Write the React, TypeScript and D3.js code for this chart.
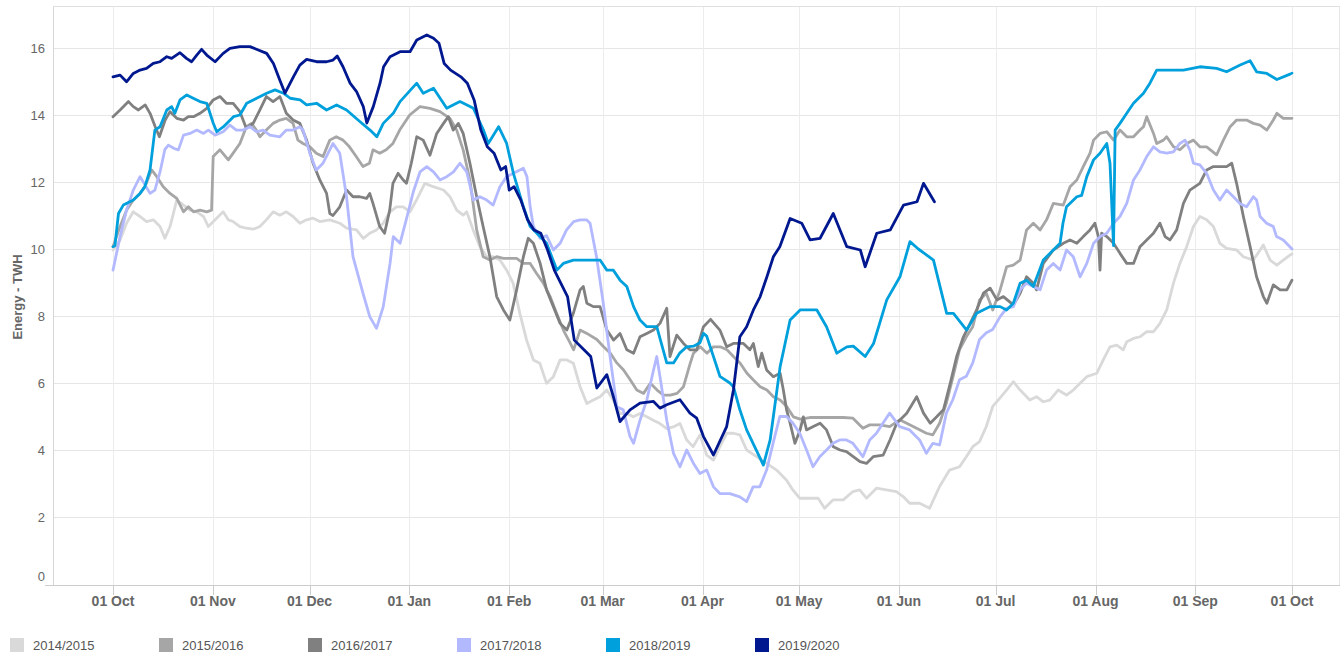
import React from "react";
import * as d3 from "d3";

// ---- Data (day offset from 01 Oct, energy in TWh) ----
const seasons = ["2014/2015", "2015/2016", "2016/2017", "2017/2018", "2018/2019", "2019/2020"];
const seasonColors = ["#d9d9d9", "#a6a6a6", "#808080", "#b3b9ff", "#00a0dc", "#00188f"];
const yTickValues = [0, 2, 4, 6, 8, 10, 12, 14, 16];

const s2014: [number, number][] = [[0,9.97],[2.2,10.27],[4.2,10.77],[6.3,11.11],[8.4,10.97],[10.4,10.82],[12.5,10.87],[14.6,10.67],[16.1,10.32],[17.7,10.67],[19.8,11.46],[21.9,11.31],[23.9,11.16],[26,11.11],[28.1,10.97],[29.6,10.67],[31.7,10.87],[34.2,11.11],[35.8,10.87],[37.3,10.82],[39.4,10.67],[41.4,10.62],[43.5,10.59],[45.6,10.67],[47.6,10.87],[49.7,11.11],[51.8,11.01],[53.8,11.11],[55.9,10.97],[58,10.77],[60.1,10.87],[62.1,10.92],[64.2,10.82],[67.3,10.87],[70.4,10.77],[72.5,10.62],[75.6,10.57],[77.7,10.32],[79.7,10.47],[81.8,10.57],[83.9,10.77],[86,11.11],[88,11.26],[90.1,11.26],[92.2,11.11],[94.2,11.46],[96.8,11.96],[99.4,11.86],[102.6,11.76],[104.6,11.56],[106.7,11.16],[108.7,11.01],[109.8,11.11],[111.8,10.57],[113.9,10.07],[116,9.77],[118,9.77],[120.1,9.67],[122.2,9.37],[124.2,8.98],[126.3,8.08],[128.4,7.28],[130.5,6.69],[132.5,6.59],[134.6,5.99],[136.7,6.19],[138.8,6.69],[140.9,6.69],[142.9,6.59],[145,5.89],[147.1,5.39],[149.1,5.49],[151.2,5.59],[153.3,5.79],[155.3,5.49],[157.4,5.09],[159.5,5.09],[161.5,4.99],[163.6,5.09],[165.7,4.99],[167.7,4.89],[169.8,4.79],[171.9,4.64],[173.9,4.69],[176,4.79],[178.1,4.3],[180.1,4.1],[182.2,4.45],[184.3,3.85],[186.4,3.7],[188.4,4.1],[190.5,4.5],[192.6,4.5],[194.6,4.45],[196.7,4.0],[199.8,3.8],[202.9,3.6],[206,3.4],[209.1,3.1],[211.1,2.8],[213.2,2.56],[216.3,2.56],[218.9,2.56],[220.9,2.26],[223.5,2.51],[226.7,2.51],[229.7,2.76],[231.8,2.81],[233.9,2.56],[237,2.86],[240.1,2.81],[243.2,2.76],[245.3,2.61],[247.3,2.41],[250.4,2.41],[253.5,2.26],[256.6,2.91],[259.7,3.4],[262.8,3.5],[264.9,3.8],[266.9,4.1],[269,4.25],[271.1,4.7],[273.1,5.3],[275.3,5.55],[277.4,5.79],[279.5,6.04],[281.6,5.79],[284.6,5.49],[286.7,5.59],[288.8,5.44],[290.8,5.49],[293.4,5.79],[296,5.64],[298.1,5.79],[300.2,5.99],[302.3,6.19],[305.4,6.29],[307.4,6.69],[309.5,7.08],[311.6,7.13],[313.6,6.99],[314.7,7.23],[316.8,7.33],[318.8,7.38],[320.9,7.53],[323,7.53],[325,7.78],[327.1,8.18],[329.2,8.98],[331.2,9.57],[333.3,10.07],[335.4,10.67],[337.4,10.97],[339.5,10.87],[341.6,10.67],[343.6,10.17],[345.7,10.02],[348.8,9.97],[350.9,9.77],[354,9.67],[356.1,9.97],[357.1,10.12],[359.2,9.67],[361.3,9.52],[363.3,9.67],[365.4,9.82],[366,9.85]];

const s2015: [number, number][] = [[0,10.07],[2.2,10.67],[4.2,11.16],[6.3,11.46],[8.4,11.66],[9.9,11.86],[12,12.36],[13.6,12.16],[15.6,11.86],[17.7,11.66],[19.8,11.51],[21.9,11.11],[23.4,11.26],[25,11.11],[27,11.16],[29.1,11.11],[30.6,11.16],[31.1,12.76],[33.2,12.96],[35.8,12.66],[37.3,12.86],[39.4,13.15],[41.4,13.65],[43,13.75],[44.5,13.55],[45.6,13.35],[47.6,13.55],[49.7,13.75],[51.8,13.85],[53.8,13.9],[55.9,13.75],[57.4,13.25],[59,13.15],[61.1,13.05],[63.1,12.86],[65.2,12.76],[67.3,13.25],[69.3,13.35],[71.4,13.25],[73.4,13.05],[75.5,12.76],[77.6,12.46],[79.6,12.56],[80.7,12.96],[82.8,12.86],[84.8,12.96],[86.9,13.15],[89,13.55],[92.1,14.0],[95.3,14.25],[98.4,14.2],[101.5,14.1],[104.6,13.9],[106.7,13.55],[108.7,12.96],[110.8,12.06],[112.9,10.57],[114.9,9.77],[117,9.67],[119.1,9.77],[121.2,9.72],[125.3,9.72],[127.4,9.57],[129.5,9.57],[131.5,9.27],[133.6,8.98],[135.7,8.58],[137.7,8.08],[139.8,7.58],[141.9,7.2],[143,6.99],[145,7.58],[147.1,7.48],[150.2,7.3],[152.3,7.08],[154.4,6.89],[156.4,6.6],[158.5,6.39],[160.6,6.09],[162.6,5.79],[164.7,5.69],[166.8,5.99],[168.9,5.79],[170.9,5.64],[173,5.64],[175.1,5.69],[177.1,5.89],[179.2,6.59],[180.2,6.89],[182.3,7.08],[184.4,6.89],[186.4,7.08],[188.5,7.08],[190.6,6.99],[192.6,6.79],[194.7,6.59],[196.8,6.29],[198.8,6.09],[200.9,5.89],[203,5.79],[205,5.59],[207.1,5.49],[209.2,5.29],[211.2,4.99],[213.3,4.92],[216.3,4.97],[219.4,4.97],[223.5,4.97],[226.7,4.97],[229.7,4.95],[232.8,4.65],[234.9,4.75],[238,4.75],[241.1,4.7],[244.2,4.9],[248.4,4.7],[252.5,4.5],[254.5,4.45],[256.6,4.8],[258.7,5.4],[260.8,6.2],[262.8,7.0],[264.9,7.38],[266.9,7.68],[269,8.48],[271.1,8.68],[273.1,8.18],[275.3,8.75],[277.4,9.47],[279.5,9.52],[281.6,9.67],[283.6,10.57],[285.7,10.77],[287.8,10.57],[289.8,10.87],[291.9,11.36],[295,11.31],[297.1,11.86],[299.2,12.06],[301.2,12.46],[303.3,12.86],[304.4,13.25],[306.4,13.45],[308.5,13.5],[310.6,13.25],[312.6,13.55],[314.7,13.35],[316.8,13.35],[318.8,13.55],[319.9,13.65],[320.9,13.95],[323,13.45],[324,13.15],[326.1,13.25],[327.1,13.35],[329.2,13.05],[331.2,12.96],[333.3,13.15],[335.4,13.25],[337.4,13.05],[339.5,13.05],[342.6,12.81],[344.7,13.25],[346.8,13.65],[348.8,13.85],[351.9,13.85],[354,13.75],[356.1,13.7],[358.2,13.55],[360.2,13.85],[361.3,14.05],[363.3,13.9],[366,13.9]];

const s2016: [number, number][] = [[0,13.95],[2.2,14.15],[4.8,14.4],[6.3,14.25],[7.9,14.15],[10,14.3],[11.5,14.05],[13.1,13.65],[14.4,13.35],[16.2,13.85],[17.7,14.1],[19.8,13.9],[21.9,13.85],[23.4,13.95],[25,13.95],[27,14.05],[29.1,14.2],[31.1,14.45],[33.2,14.55],[35.2,14.35],[37.3,14.35],[39.4,14.1],[41.4,13.6],[43.5,13.75],[45.6,14.15],[47.6,14.55],[49.7,14.4],[51.8,14.55],[53.8,14.05],[55.9,13.85],[58,13.75],[60.1,13.25],[62.1,12.56],[64.2,12.06],[66.3,11.66],[67.3,11.06],[68.3,11.0],[70.4,11.26],[72.5,11.76],[74.5,11.56],[76.6,11.56],[78.7,11.51],[79.7,11.66],[80.7,11.36],[82.8,10.67],[84.3,10.47],[85.9,11.16],[86.9,11.96],[88.5,12.26],[90.1,12.06],[91.1,11.96],[92.6,12.56],[94.3,13.35],[96.3,13.25],[98.4,12.8],[100.5,13.45],[102.6,13.75],[104.1,13.95],[105.6,13.55],[107.2,13.75],[108.7,13.45],[110.8,12.56],[112.9,11.56],[114.9,10.67],[117,9.77],[119.1,8.58],[121.2,8.18],[123.2,7.88],[125.3,8.78],[127.4,9.77],[128.9,10.32],[130.5,10.17],[132.6,9.57],[134.6,8.78],[136.7,8.28],[138.8,7.78],[140.9,7.58],[142.9,8.08],[145,8.78],[146,8.88],[147.1,8.38],[149.1,8.28],[151.2,8.28],[153.3,7.58],[155.4,7.28],[157.4,7.48],[159.5,6.99],[161.6,6.89],[163.6,7.38],[165.7,7.48],[167.8,7.58],[169.8,7.78],[171.9,8.23],[172.9,6.79],[175,7.43],[177.1,7.18],[179.1,6.99],[181.2,6.99],[183.3,7.68],[185.5,7.9],[188.4,7.58],[190.5,7.08],[192.6,7.18],[195.7,7.18],[197.7,6.99],[198.8,7.18],[200.3,6.49],[201.4,6.89],[202.9,6.39],[205,6.19],[207.1,6.29],[208.1,5.79],[209.1,5.2],[210.2,4.8],[211.7,4.2],[213.3,4.6],[214.3,4.99],[215.3,4.6],[217.4,4.7],[219.5,4.8],[221.5,4.6],[223.6,4.1],[225.7,4.0],[227.7,3.95],[229.8,3.8],[231.9,3.65],[233.9,3.6],[236,3.8],[239.1,3.85],[241.2,4.3],[243.3,4.8],[246.4,5.1],[249.5,5.59],[251.6,5.1],[253.7,4.8],[255.7,4.99],[257.8,5.2],[259.9,5.99],[261.9,6.79],[264,7.38],[266.1,7.78],[268.1,8.18],[270.2,8.68],[272.3,8.83],[274.4,8.48],[276.4,8.58],[279.5,8.33],[281.6,8.68],[283.6,9.17],[285.7,8.98],[286.7,8.78],[288.8,9.57],[291.9,9.97],[295,10.17],[297.1,10.27],[299.2,10.17],[301.2,10.37],[303.3,10.57],[304.8,10.77],[305.9,10.37],[306.4,9.37],[306.9,10.47],[308.5,10.37],[310.6,10.17],[312.6,9.87],[314.7,9.57],[316.8,9.57],[318.8,10.07],[320.9,10.27],[323,10.47],[325,10.77],[326.6,10.37],[328.1,10.27],[330.2,10.57],[332.3,11.36],[334.3,11.76],[337.4,11.96],[339.5,12.36],[341.6,12.46],[345.7,12.46],[347.3,12.56],[348.8,11.96],[350.9,10.97],[353,10.07],[355,9.17],[357.1,8.58],[358.2,8.38],[360.2,8.93],[362.3,8.78],[364.4,8.78],[366,9.07]];

const s2017: [number, number][] = [[0,9.37],[2.2,10.37],[4.2,11.16],[6.3,11.76],[8.4,12.16],[11.5,11.66],[13,11.76],[14.6,12.3],[16.1,12.97],[17.2,13.1],[19,13.0],[20.3,12.96],[21.9,13.4],[23.9,13.45],[26,13.55],[28.1,13.45],[29.6,13.55],[31.7,13.4],[34.2,13.5],[36.3,13.7],[38.3,13.55],[40.4,13.55],[42.5,13.65],[44.5,13.5],[46.6,13.55],[48.7,13.4],[51.8,13.35],[53.8,13.55],[55.9,13.55],[58,13.65],[59,13.55],[61.1,12.86],[63.1,12.36],[65.2,12.56],[68.3,13.15],[70.4,12.86],[72.5,11.56],[74.5,9.77],[77.6,8.68],[79.7,7.98],[81.8,7.63],[83.9,8.28],[86,9.57],[87,10.37],[89.1,10.17],[91.1,10.9],[93.2,11.7],[95.3,12.3],[97.4,12.46],[99.5,12.3],[101.5,12.06],[103.6,12.16],[105.7,12.3],[107.7,12.56],[109.8,12.3],[111.9,11.46],[113.9,11.56],[116,11.46],[118,11.31],[120.1,11.86],[122.2,12.16],[124.3,12.26],[127.4,12.41],[128.5,12.16],[129.5,11.26],[130.5,10.67],[132.6,10.32],[134.6,10.4],[136.7,9.97],[138.8,10.17],[140.8,10.57],[143,10.82],[145,10.87],[147,10.87],[148.1,10.77],[150.1,9.77],[152.2,8.38],[154.3,6.79],[156.4,5.29],[158.4,5.2],[160.5,4.4],[161.6,4.2],[163.6,4.89],[165.7,5.49],[167.8,6.39],[168.8,6.79],[169.8,6.19],[171.9,4.89],[174,3.9],[176,3.5],[178.1,4.0],[180.2,3.6],[182.2,3.3],[184.3,3.4],[186.4,2.9],[188.4,2.7],[191.5,2.7],[194.6,2.6],[196.7,2.46],[198.7,2.9],[200.8,2.9],[202.9,3.4],[204.9,4.2],[207,5.0],[209.1,5.0],[211.1,4.8],[213.2,4.5],[215.3,4.0],[217.3,3.5],[219.4,3.8],[221.5,4.0],[223.5,4.2],[225.6,4.3],[227.7,4.3],[229.7,4.2],[232.8,3.8],[234.9,4.3],[237,4.5],[239,4.8],[241.1,5.1],[244.2,4.7],[247.3,4.6],[250.4,4.3],[252.5,3.9],[254.5,4.2],[256.6,4.15],[258.7,5.1],[260.7,5.5],[262.8,6.1],[264.9,6.2],[266.9,6.6],[269,7.3],[271.1,7.5],[273.1,7.6],[275.4,7.98],[277.4,8.23],[279.5,8.28],[281.6,8.78],[283.6,8.98],[285.7,8.88],[287.8,8.78],[289.8,9.37],[291.9,9.57],[294,9.37],[296,9.97],[298.1,9.77],[300.2,9.17],[302.3,9.57],[304.4,10.17],[306.4,10.37],[308.5,10.47],[310.6,10.77],[312.6,10.97],[314.7,11.36],[316.8,12.06],[318.8,12.36],[320.9,12.76],[323,13.05],[325,12.9],[327.1,12.86],[329.2,12.9],[331.2,13.15],[332.8,13.25],[334.3,12.95],[335.4,12.56],[337.4,12.51],[339.5,12.26],[341.6,11.76],[343.6,11.46],[345.7,11.76],[347.8,11.56],[349.8,11.36],[351.9,11.26],[354,11.56],[355,11.46],[356.1,10.97],[358.1,10.77],[360.2,10.67],[361.2,10.37],[363.3,10.27],[366,10.0]];

const s2018: [number, number][] = [[0,10.07],[0.6,10.1],[1.7,11.06],[3.2,11.31],[6.3,11.46],[8.4,11.66],[9.9,11.86],[11.5,12.36],[13,13.55],[14.6,13.65],[16.7,14.15],[18.2,14.25],[19.2,14.05],[20.8,14.45],[22.9,14.6],[24.9,14.5],[27,14.4],[29.1,14.35],[31.1,13.76],[32.2,13.5],[34.3,13.65],[37.4,13.95],[39.4,14.0],[41.5,14.35],[44.6,14.5],[47.7,14.65],[50.3,14.75],[52.9,14.65],[55,14.5],[58.1,14.45],[60.1,14.3],[63.2,14.35],[66.3,14.15],[69.4,14.3],[72.5,14.15],[76.7,13.8],[79.8,13.55],[81.9,13.35],[83.9,13.75],[87,14.05],[89.1,14.4],[91,14.6],[94.3,14.95],[96.3,14.65],[99.5,14.8],[103.6,14.2],[107.7,14.4],[111.9,14.2],[115,13.55],[116.5,13.15],[119.7,13.65],[122.2,13.15],[124.3,12.26],[127.4,11.26],[129.5,10.67],[132.6,10.37],[134.6,10.17],[137.8,9.37],[139.8,9.57],[142.9,9.67],[147.1,9.67],[151.2,9.67],[153.3,9.37],[155.3,9.37],[157.4,9.07],[159.5,8.88],[161.6,8.28],[163.6,7.88],[165.7,7.68],[168.8,7.68],[169.8,7.33],[171.9,6.6],[174,6.6],[176,6.9],[178.1,7.08],[180.2,7.1],[182.2,7.2],[183.3,7.48],[184.3,7.4],[186.4,6.79],[188.4,6.2],[191.5,6.0],[192.6,5.89],[194.6,5.2],[196.7,4.6],[197.7,4.4],[201.9,3.55],[204,4.3],[207.1,6.49],[210.2,7.88],[213.3,8.18],[218.5,8.18],[221.5,7.68],[224.7,6.89],[227.8,7.08],[229.8,7.1],[233.5,6.79],[236.1,7.18],[240.2,8.48],[244.3,9.17],[247.4,10.22],[250,10.0],[252.6,9.82],[254.7,9.67],[258.8,8.08],[260.9,8.08],[265,7.58],[268.1,8.08],[272.3,8.28],[275.4,8.28],[277.4,8.18],[279.5,8.38],[281.6,8.98],[283.6,9.07],[285.7,8.88],[288.8,9.67],[291.9,9.97],[294,10.17],[294.9,10.77],[296,11.26],[299.2,11.56],[300.7,11.6],[302.3,12.16],[304.4,12.66],[306.4,12.86],[308.5,13.15],[309.5,12.56],[310.6,10.1],[311.1,13.55],[312.6,13.75],[314.7,14.05],[316.8,14.35],[319.9,14.65],[321.9,14.95],[324,15.34],[327.1,15.34],[332.3,15.34],[337.4,15.44],[342.6,15.39],[345.7,15.29],[349.9,15.49],[353,15.62],[355,15.29],[358.2,15.24],[361.3,15.06],[365.4,15.22],[366,15.25]];

const s2019: [number, number][] = [[0,15.14],[2.2,15.19],[4.2,14.99],[6.3,15.24],[8.4,15.34],[10.4,15.39],[12.5,15.54],[14.6,15.59],[16.7,15.74],[18.2,15.69],[20.8,15.86],[22.8,15.69],[24.4,15.59],[26,15.79],[27.5,15.96],[29.1,15.79],[31.7,15.59],[34.2,15.84],[36.3,15.99],[39.4,16.04],[42.5,16.04],[45.1,15.94],[47.7,15.84],[49.8,15.54],[51.8,15.04],[53.4,14.65],[56,15.14],[58,15.49],[60.1,15.66],[63.2,15.59],[66.3,15.59],[68.3,15.64],[69.6,15.76],[71.4,15.44],[73.6,14.95],[75.6,14.7],[77.7,14.25],[78.8,13.76],[80.8,14.25],[82.9,14.95],[84,15.44],[86,15.74],[89.1,15.89],[92.2,15.89],[94.3,16.24],[97.4,16.39],[99.5,16.29],[101.2,16.14],[102.8,15.54],[104.8,15.34],[108,15.14],[110,14.95],[112.1,14.45],[114.2,13.55],[116.2,13.05],[118.3,12.86],[120.4,12.36],[121.9,12.46],[123,11.76],[124.5,11.86],[126.6,11.46],[128.7,10.87],[130.7,10.57],[132.8,10.47],[134.9,9.97],[137,9.37],[139,8.98],[141.1,8.58],[143.2,7.28],[146.2,6.99],[148.3,6.79],[150.2,5.85],[153.3,6.25],[155.3,5.6],[157.4,4.85],[160.5,5.2],[163.6,5.4],[167.8,5.45],[169.8,5.25],[171.9,5.35],[176,5.5],[179.1,5.1],[181.2,4.95],[183.3,4.4],[186.4,3.85],[190.5,4.7],[192.6,5.79],[194.6,7.38],[196.7,7.68],[198.8,8.18],[200.9,8.58],[203,9.17],[205,9.77],[207,10.07],[210.2,10.91],[213.8,10.77],[216.4,10.27],[219.5,10.32],[223.6,11.06],[227.8,10.07],[232,9.97],[233.5,9.47],[237.1,10.47],[241.3,10.57],[245.4,11.31],[249.6,11.41],[251.6,11.96],[255,11.41]];

const seriesData = [s2014, s2015, s2016, s2017, s2018, s2019];

// ---- Layout ----
const W = 1342;
const H = 653;
const plotLeft = 53;
const plotRight = 1340;
const plotTop = 6;
const plotBottom = 585;
const FONT = "'Liberation Sans', Arial, Helvetica, sans-serif";

const startDate = new Date(Date.UTC(2019, 9, 1));
const endDate = new Date(Date.UTC(2020, 9, 1));
const dayToDate = (d: number) => new Date(startDate.getTime() + d * 86400000);

export default function App() {
  const x = d3.scaleUtc().domain([startDate, endDate]).range([113, 1292]);
  const y = d3.scaleLinear().domain([0, 16]).range([584, 48]);
  const monthTicks = d3.utcMonth.range(startDate, new Date(endDate.getTime() + 86400000));
  const fmt = d3.utcFormat("%d %b");
  const line = d3
    .line<[number, number]>()
    .x((p) => x(dayToDate(p[0])))
    .y((p) => y(p[1]))
    .curve(d3.curveLinear);

  const legendX = [10, 159, 308, 457, 606, 755];

  return (
    <svg
      width={W}
      height={H}
      style={{ position: "absolute", left: 0, top: 0, background: "#fff" }}
      fontFamily={FONT}
    >
      <rect x={0} y={0} width={W} height={H} fill="#ffffff" />
      {/* horizontal grid */}
      {yTickValues.filter((v) => v > 0).map((v) => (
        <line key={"hg" + v} x1={plotLeft} x2={plotRight} y1={y(v) + 0.5} y2={y(v) + 0.5} stroke="#e6e6e6" strokeWidth={1} />
      ))}
      {/* vertical grid */}
      {monthTicks.map((t, i) => (
        <line key={"vg" + i} x1={Math.round(x(t)) + 0.5} x2={Math.round(x(t)) + 0.5} y1={plotTop} y2={plotBottom} stroke="#ececec" strokeWidth={1} />
      ))}
      {/* plot border */}
      <line x1={plotLeft + 0.5} x2={plotLeft + 0.5} y1={plotTop} y2={plotBottom} stroke="#d6d6d6" />
      <line x1={plotLeft} x2={plotRight} y1={plotTop + 0.5} y2={plotTop + 0.5} stroke="#e0e0e0" />
      <line x1={plotRight - 0.5} x2={plotRight - 0.5} y1={plotTop} y2={plotBottom} stroke="#e6e6e6" />
      {/* x axis */}
      <line x1={45} x2={plotRight} y1={plotBottom + 0.5} y2={plotBottom + 0.5} stroke="#cccccc" />
      {monthTicks.map((t, i) => (
        <g key={"xt" + i}>
          <line x1={Math.round(x(t)) + 0.5} x2={Math.round(x(t)) + 0.5} y1={plotBottom} y2={plotBottom + 10} stroke="#cccccc" />
          <text x={x(t)} y={606} textAnchor="middle" fontSize={14} fontWeight="bold" fill="#666666">
            {fmt(t)}
          </text>
        </g>
      ))}
      {/* y axis labels */}
      {yTickValues.map((v) => (
        <text key={"yl" + v} x={45} y={(v === 0 ? y(v) - 8 : y(v)) + 4.5} textAnchor="end" fontSize={13} fill="#666666">
          {v}
        </text>
      ))}
      <text
        transform={`translate(22, 297) rotate(-90)`}
        textAnchor="middle"
        fontSize={13}
        fontWeight="bold"
        fill="#666666"
      >
        Energy - TWH
      </text>
      {/* series */}
      <g>
        {seriesData.map((s, i) => (
          <path
            key={"s" + i}
            d={line(s) || ""}
            fill="none"
            stroke={seasonColors[i]}
            strokeWidth={2.8}
            strokeLinejoin="round"
            strokeLinecap="round"
          />
        ))}
      </g>
      {/* legend */}
      {seasons.map((name, i) => (
        <g key={"lg" + i}>
          <rect x={legendX[i]} y={638} width={14} height={14} fill={seasonColors[i]} />
          <text x={legendX[i] + 23} y={650} fontSize={13} fill="#555555">
            {name}
          </text>
        </g>
      ))}
    </svg>
  );
}
